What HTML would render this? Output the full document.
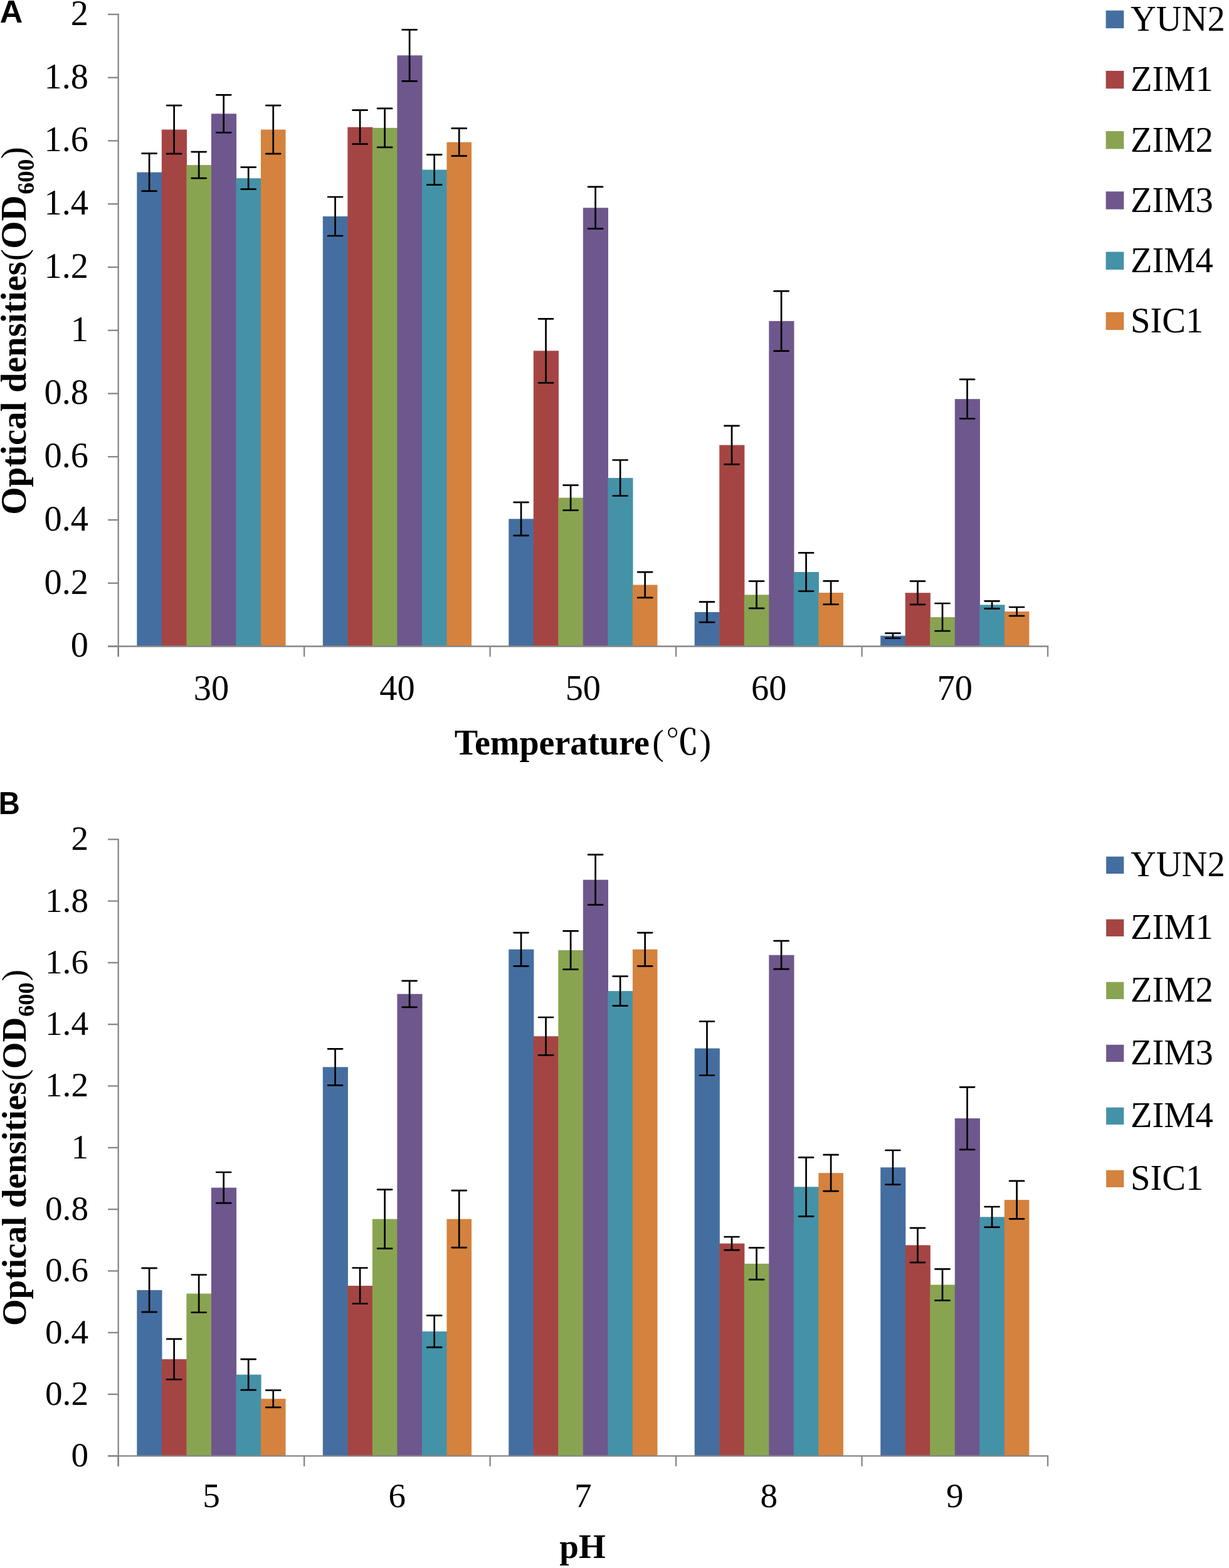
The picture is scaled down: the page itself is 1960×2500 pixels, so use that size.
<!DOCTYPE html><html><head><meta charset="utf-8"><title>Optical densities chart</title><style>html,body{margin:0;padding:0;background:#fff;overflow:hidden;width:1960px;height:2500px;}svg{display:block;}</style></head><body>
<svg width="1960" height="2500" viewBox="0 0 1960 2500">
<rect width="1960" height="2500" fill="#fff"/>
<g><rect x="218.35" y="274.7" width="40.13" height="755.8" fill="#456EA0"/><rect x="257.87" y="206.6" width="40.13" height="823.9" fill="#A54543"/><rect x="297.4" y="263.1" width="40.13" height="767.4" fill="#89A450"/><rect x="336.93" y="181.3" width="40.13" height="849.2" fill="#6E578D"/><rect x="376.46" y="284.2" width="40.13" height="746.3" fill="#4492A8"/><rect x="415.99" y="206.6" width="39.53" height="823.9" fill="#D4823E"/><rect x="514.81" y="345" width="40.13" height="685.5" fill="#456EA0"/><rect x="554.33" y="202.7" width="40.13" height="827.8" fill="#A54543"/><rect x="593.86" y="203.9" width="40.13" height="826.6" fill="#89A450"/><rect x="633.39" y="88.3" width="40.13" height="942.2" fill="#6E578D"/><rect x="672.92" y="270.6" width="40.13" height="759.9" fill="#4492A8"/><rect x="712.45" y="226.7" width="39.53" height="803.8" fill="#D4823E"/><rect x="811.27" y="827.3" width="40.13" height="203.2" fill="#456EA0"/><rect x="850.79" y="559.3" width="40.13" height="471.2" fill="#A54543"/><rect x="890.32" y="793.6" width="40.13" height="236.9" fill="#89A450"/><rect x="929.85" y="331.3" width="40.13" height="699.2" fill="#6E578D"/><rect x="969.38" y="762" width="40.13" height="268.5" fill="#4492A8"/><rect x="1008.91" y="932.5" width="39.53" height="98" fill="#D4823E"/><rect x="1107.73" y="975.9" width="40.13" height="54.6" fill="#456EA0"/><rect x="1147.25" y="709.6" width="40.13" height="320.9" fill="#A54543"/><rect x="1186.78" y="948.3" width="40.13" height="82.2" fill="#89A450"/><rect x="1226.31" y="511.9" width="40.13" height="518.6" fill="#6E578D"/><rect x="1265.84" y="912" width="40.13" height="118.5" fill="#4492A8"/><rect x="1305.37" y="945" width="39.53" height="85.5" fill="#D4823E"/><rect x="1404.19" y="1013.6" width="40.13" height="16.9" fill="#456EA0"/><rect x="1443.71" y="945.2" width="40.13" height="85.3" fill="#A54543"/><rect x="1483.24" y="984" width="40.13" height="46.5" fill="#89A450"/><rect x="1522.77" y="636.2" width="40.13" height="394.3" fill="#6E578D"/><rect x="1562.3" y="964.3" width="40.13" height="66.2" fill="#4492A8"/><rect x="1601.83" y="975" width="39.53" height="55.5" fill="#D4823E"/></g>
<g stroke="#868686" stroke-width="2.3" fill="none"><path d="M188.7 21.8V1047"/><path d="M172 22.95H188.7"/><path d="M172 123.7H188.7"/><path d="M172 224.46H188.7"/><path d="M172 325.21H188.7"/><path d="M172 425.97H188.7"/><path d="M172 526.73H188.7"/><path d="M172 627.48H188.7"/><path d="M172 728.24H188.7"/><path d="M172 828.99H188.7"/><path d="M172 929.75H188.7"/><path d="M172 1030.5H188.7"/><path d="M172 1030.5H1672.15"/><path d="M188.7 1030.5V1047"/><path d="M485.16 1030.5V1047"/><path d="M781.62 1030.5V1047"/><path d="M1078.08 1030.5V1047"/><path d="M1374.54 1030.5V1047"/><path d="M1671 1030.5V1047"/></g>
<g stroke="#000" stroke-width="2.7" stroke-linecap="round" fill="none"><path d="M238.11 244.7V304.7M226.56 244.7H249.66M226.56 304.7H249.66"/><path d="M277.64 168.1V245.1M266.09 168.1H289.19M266.09 245.1H289.19"/><path d="M317.17 242.1V284.1M305.62 242.1H328.72M305.62 284.1H328.72"/><path d="M356.69 151.3V211.3M345.14 151.3H368.24M345.14 211.3H368.24"/><path d="M396.22 266.7V301.7M384.67 266.7H407.77M384.67 301.7H407.77"/><path d="M435.75 168.1V245.1M424.2 168.1H447.3M424.2 245.1H447.3"/><path d="M534.57 314V376M523.02 314H546.12M523.02 376H546.12"/><path d="M574.1 175.7V229.7M562.55 175.7H585.65M562.55 229.7H585.65"/><path d="M613.63 172.9V234.9M602.08 172.9H625.18M602.08 234.9H625.18"/><path d="M653.15 47.3V129.3M641.6 47.3H664.7M641.6 129.3H664.7"/><path d="M692.68 246.6V294.6M681.13 246.6H704.23M681.13 294.6H704.23"/><path d="M732.21 204.7V248.7M720.66 204.7H743.76M720.66 248.7H743.76"/><path d="M831.03 800.8V853.8M819.48 800.8H842.58M819.48 853.8H842.58"/><path d="M870.56 508.3V610.3M859.01 508.3H882.11M859.01 610.3H882.11"/><path d="M910.09 773.6V813.6M898.54 773.6H921.64M898.54 813.6H921.64"/><path d="M949.61 297.9V364.7M938.06 297.9H961.16M938.06 364.7H961.16"/><path d="M989.14 733.5V790.5M977.59 733.5H1000.69M977.59 790.5H1000.69"/><path d="M1028.67 912.1V952.9M1017.12 912.1H1040.22M1017.12 952.9H1040.22"/><path d="M1127.49 959.7V992.1M1115.94 959.7H1139.04M1115.94 992.1H1139.04"/><path d="M1167.02 678.9V740.3M1155.47 678.9H1178.57M1155.47 740.3H1178.57"/><path d="M1206.55 926.7V969.9M1195 926.7H1218.1M1195 969.9H1218.1"/><path d="M1246.07 464.15V559.65M1234.52 464.15H1257.62M1234.52 559.65H1257.62"/><path d="M1285.6 881.4V942.6M1274.05 881.4H1297.15M1274.05 942.6H1297.15"/><path d="M1325.13 926.3V963.7M1313.58 926.3H1336.68M1313.58 963.7H1336.68"/><path d="M1423.95 1009.7V1017.5M1412.4 1009.7H1435.5M1412.4 1017.5H1435.5"/><path d="M1463.48 926.6V963.8M1451.93 926.6H1475.03M1451.93 963.8H1475.03"/><path d="M1503.01 962V1006M1491.46 962H1514.56M1491.46 1006H1514.56"/><path d="M1542.53 604.9V667.5M1530.98 604.9H1554.08M1530.98 667.5H1554.08"/><path d="M1582.06 958.3V970.3M1570.51 958.3H1593.61M1570.51 970.3H1593.61"/><path d="M1621.59 968V982M1610.04 968H1633.14M1610.04 982H1633.14"/></g>
<g font-family="'Liberation Serif', 'Times New Roman', serif" font-size="56.4" fill="#000"><text x="141" y="39.85" text-anchor="end">2</text><text x="141" y="140.6" text-anchor="end">1.8</text><text x="141" y="241.36" text-anchor="end">1.6</text><text x="141" y="342.11" text-anchor="end">1.4</text><text x="141" y="442.87" text-anchor="end">1.2</text><text x="141" y="543.62" text-anchor="end">1</text><text x="141" y="644.38" text-anchor="end">0.8</text><text x="141" y="745.13" text-anchor="end">0.6</text><text x="141" y="845.89" text-anchor="end">0.4</text><text x="141" y="946.64" text-anchor="end">0.2</text><text x="141" y="1047.4" text-anchor="end">0</text><text x="336.93" y="1115.5" text-anchor="middle">30</text><text x="633.39" y="1115.5" text-anchor="middle">40</text><text x="929.85" y="1115.5" text-anchor="middle">50</text><text x="1226.31" y="1115.5" text-anchor="middle">60</text><text x="1522.77" y="1115.5" text-anchor="middle">70</text></g>
<g font-family="'Liberation Serif', 'Times New Roman', serif" font-size="56.5" fill="#000"><rect x="1763.6" y="16.7" width="28.7" height="28.4" fill="#456EA0"/><text x="1803" y="49.1">YUN2</text><rect x="1763.6" y="112.9" width="28.7" height="28.4" fill="#A54543"/><text x="1803" y="145.3">ZIM1</text><rect x="1763.6" y="209.1" width="28.7" height="28.4" fill="#89A450"/><text x="1803" y="241.5">ZIM2</text><rect x="1763.6" y="305.3" width="28.7" height="28.4" fill="#6E578D"/><text x="1803" y="337.7">ZIM3</text><rect x="1763.6" y="401.5" width="28.7" height="28.4" fill="#4492A8"/><text x="1803" y="433.9">ZIM4</text><rect x="1763.6" y="497.7" width="28.7" height="28.4" fill="#D4823E"/><text x="1803" y="530.1">SIC1</text></g>
<g fill="#000"><text transform="translate(41 820.78) rotate(-90)" font-family="'Liberation Serif', 'Times New Roman', serif" font-weight="bold" font-size="57">Optical densities</text><text transform="translate(41 416) rotate(-90)" font-family="'Liberation Serif', 'Times New Roman', serif" font-weight="normal" font-size="57">(</text><text transform="translate(41 396.78) rotate(-90)" font-family="'Liberation Serif', 'Times New Roman', serif" font-weight="bold" font-size="57">OD</text><text transform="translate(53.7 309.78) rotate(-90)" font-family="'Liberation Serif', 'Times New Roman', serif" font-weight="bold" font-size="37.5">600</text><text transform="translate(41 253.24) rotate(-90)" font-family="'Liberation Serif', 'Times New Roman', serif" font-weight="normal" font-size="57">)</text></g>
<g><rect x="218.35" y="2056.9" width="40.13" height="264.4" fill="#456EA0"/><rect x="257.87" y="2167.1" width="40.13" height="154.2" fill="#A54543"/><rect x="297.4" y="2062.5" width="40.13" height="258.8" fill="#89A450"/><rect x="336.93" y="1893.6" width="40.13" height="427.7" fill="#6E578D"/><rect x="376.46" y="2191.7" width="40.13" height="129.6" fill="#4492A8"/><rect x="415.99" y="2230.2" width="39.53" height="91.1" fill="#D4823E"/><rect x="514.81" y="1701.3" width="40.13" height="620" fill="#456EA0"/><rect x="554.33" y="2050" width="40.13" height="271.3" fill="#A54543"/><rect x="593.86" y="1943.6" width="40.13" height="377.7" fill="#89A450"/><rect x="633.39" y="1584.8" width="40.13" height="736.5" fill="#6E578D"/><rect x="672.92" y="2122.8" width="40.13" height="198.5" fill="#4492A8"/><rect x="712.45" y="1943.6" width="39.53" height="377.7" fill="#D4823E"/><rect x="811.27" y="1513.7" width="40.13" height="807.6" fill="#456EA0"/><rect x="850.79" y="1652.2" width="40.13" height="669.1" fill="#A54543"/><rect x="890.32" y="1515" width="40.13" height="806.3" fill="#89A450"/><rect x="929.85" y="1402.7" width="40.13" height="918.6" fill="#6E578D"/><rect x="969.38" y="1580.1" width="40.13" height="741.2" fill="#4492A8"/><rect x="1008.91" y="1513.7" width="39.53" height="807.6" fill="#D4823E"/><rect x="1107.73" y="1671.5" width="40.13" height="649.8" fill="#456EA0"/><rect x="1147.25" y="1982.6" width="40.13" height="338.7" fill="#A54543"/><rect x="1186.78" y="2014.8" width="40.13" height="306.5" fill="#89A450"/><rect x="1226.31" y="1522.7" width="40.13" height="798.6" fill="#6E578D"/><rect x="1265.84" y="1892.3" width="40.13" height="429" fill="#4492A8"/><rect x="1305.37" y="1870.2" width="39.53" height="451.1" fill="#D4823E"/><rect x="1404.19" y="1861.3" width="40.13" height="460" fill="#456EA0"/><rect x="1443.71" y="1985.3" width="40.13" height="336" fill="#A54543"/><rect x="1483.24" y="2048.4" width="40.13" height="272.9" fill="#89A450"/><rect x="1522.77" y="1783.1" width="40.13" height="538.2" fill="#6E578D"/><rect x="1562.3" y="1940.3" width="40.13" height="381" fill="#4492A8"/><rect x="1601.83" y="1913.1" width="39.53" height="408.2" fill="#D4823E"/></g>
<g stroke="#868686" stroke-width="2.3" fill="none"><path d="M188.7 1337.15V2337.8"/><path d="M172 1338.3H188.7"/><path d="M172 1436.6H188.7"/><path d="M172 1534.9H188.7"/><path d="M172 1633.2H188.7"/><path d="M172 1731.5H188.7"/><path d="M172 1829.8H188.7"/><path d="M172 1928.1H188.7"/><path d="M172 2026.4H188.7"/><path d="M172 2124.7H188.7"/><path d="M172 2223H188.7"/><path d="M172 2321.3H188.7"/><path d="M172 2321.3H1672.15"/><path d="M188.7 2321.3V2337.8"/><path d="M485.16 2321.3V2337.8"/><path d="M781.62 2321.3V2337.8"/><path d="M1078.08 2321.3V2337.8"/><path d="M1374.54 2321.3V2337.8"/><path d="M1671 2321.3V2337.8"/></g>
<g stroke="#000" stroke-width="2.7" stroke-linecap="round" fill="none"><path d="M238.11 2021.9V2091.9M226.56 2021.9H249.66M226.56 2091.9H249.66"/><path d="M277.64 2134.9V2199.3M266.09 2134.9H289.19M266.09 2199.3H289.19"/><path d="M317.17 2032.5V2092.5M305.62 2032.5H328.72M305.62 2092.5H328.72"/><path d="M356.69 1869V1918.2M345.14 1869H368.24M345.14 1918.2H368.24"/><path d="M396.22 2167.2V2216.2M384.67 2167.2H407.77M384.67 2216.2H407.77"/><path d="M435.75 2216.6V2243.8M424.2 2216.6H447.3M424.2 2243.8H447.3"/><path d="M534.57 1672.3V1730.3M523.02 1672.3H546.12M523.02 1730.3H546.12"/><path d="M574.1 2021.5V2078.5M562.55 2021.5H585.65M562.55 2078.5H585.65"/><path d="M613.63 1896.6V1990.6M602.08 1896.6H625.18M602.08 1990.6H625.18"/><path d="M653.15 1563.8V1605.8M641.6 1563.8H664.7M641.6 1605.8H664.7"/><path d="M692.68 2097.4V2148.2M681.13 2097.4H704.23M681.13 2148.2H704.23"/><path d="M732.21 1898.1V1989.1M720.66 1898.1H743.76M720.66 1989.1H743.76"/><path d="M831.03 1487.1V1540.3M819.48 1487.1H842.58M819.48 1540.3H842.58"/><path d="M870.56 1622V1682.4M859.01 1622H882.11M859.01 1682.4H882.11"/><path d="M910.09 1484.4V1545.6M898.54 1484.4H921.64M898.54 1545.6H921.64"/><path d="M949.61 1362.7V1442.7M938.06 1362.7H961.16M938.06 1442.7H961.16"/><path d="M989.14 1556.6V1603.6M977.59 1556.6H1000.69M977.59 1603.6H1000.69"/><path d="M1028.67 1487.1V1540.3M1017.12 1487.1H1040.22M1017.12 1540.3H1040.22"/><path d="M1127.49 1628.5V1714.5M1115.94 1628.5H1139.04M1115.94 1714.5H1139.04"/><path d="M1167.02 1972V1993.2M1155.47 1972H1178.57M1155.47 1993.2H1178.57"/><path d="M1206.55 1989.4V2040.2M1195 1989.4H1218.1M1195 2040.2H1218.1"/><path d="M1246.07 1500.2V1545.2M1234.52 1500.2H1257.62M1234.52 1545.2H1257.62"/><path d="M1285.6 1845.3V1939.3M1274.05 1845.3H1297.15M1274.05 1939.3H1297.15"/><path d="M1325.13 1841.2V1899.2M1313.58 1841.2H1336.68M1313.58 1899.2H1336.68"/><path d="M1423.95 1834V1888.6M1412.4 1834H1435.5M1412.4 1888.6H1435.5"/><path d="M1463.48 1957.8V2012.8M1451.93 1957.8H1475.03M1451.93 2012.8H1475.03"/><path d="M1503.01 2023.4V2073.4M1491.46 2023.4H1514.56M1491.46 2073.4H1514.56"/><path d="M1542.53 1733.3V1832.9M1530.98 1733.3H1554.08M1530.98 1832.9H1554.08"/><path d="M1582.06 1924V1956.6M1570.51 1924H1593.61M1570.51 1956.6H1593.61"/><path d="M1621.59 1882.9V1943.3M1610.04 1882.9H1633.14M1610.04 1943.3H1633.14"/></g>
<g font-family="'Liberation Serif', 'Times New Roman', serif" font-size="55.2" fill="#000"><text x="141" y="1355.2" text-anchor="end">2</text><text x="141" y="1453.5" text-anchor="end">1.8</text><text x="141" y="1551.8" text-anchor="end">1.6</text><text x="141" y="1650.1" text-anchor="end">1.4</text><text x="141" y="1748.4" text-anchor="end">1.2</text><text x="141" y="1846.7" text-anchor="end">1</text><text x="141" y="1945" text-anchor="end">0.8</text><text x="141" y="2043.3" text-anchor="end">0.6</text><text x="141" y="2141.6" text-anchor="end">0.4</text><text x="141" y="2239.9" text-anchor="end">0.2</text><text x="141" y="2338.2" text-anchor="end">0</text><text x="336.93" y="2403.3" text-anchor="middle">5</text><text x="633.39" y="2403.3" text-anchor="middle">6</text><text x="929.85" y="2403.3" text-anchor="middle">7</text><text x="1226.31" y="2403.3" text-anchor="middle">8</text><text x="1522.77" y="2403.3" text-anchor="middle">9</text></g>
<g font-family="'Liberation Serif', 'Times New Roman', serif" font-size="56.5" fill="#000"><rect x="1764.1" y="1365.7" width="28.2" height="27.3" fill="#456EA0"/><text x="1803" y="1396.7">YUN2</text><rect x="1764.1" y="1465.7" width="28.2" height="27.3" fill="#A54543"/><text x="1803" y="1496.7">ZIM1</text><rect x="1764.1" y="1565.7" width="28.2" height="27.3" fill="#89A450"/><text x="1803" y="1596.7">ZIM2</text><rect x="1764.1" y="1665.7" width="28.2" height="27.3" fill="#6E578D"/><text x="1803" y="1696.7">ZIM3</text><rect x="1764.1" y="1765.7" width="28.2" height="27.3" fill="#4492A8"/><text x="1803" y="1796.7">ZIM4</text><rect x="1764.1" y="1865.7" width="28.2" height="27.3" fill="#D4823E"/><text x="1803" y="1896.7">SIC1</text></g>
<g fill="#000"><text transform="translate(41 2113.98) rotate(-90)" font-family="'Liberation Serif', 'Times New Roman', serif" font-weight="bold" font-size="55">Optical densities</text><text transform="translate(41 1723.01) rotate(-90)" font-family="'Liberation Serif', 'Times New Roman', serif" font-weight="normal" font-size="55">(</text><text transform="translate(41 1704.18) rotate(-90)" font-family="'Liberation Serif', 'Times New Roman', serif" font-weight="bold" font-size="55">OD</text><text transform="translate(53.7 1620.95) rotate(-90)" font-family="'Liberation Serif', 'Times New Roman', serif" font-weight="bold" font-size="36.5">600</text><text transform="translate(41 1564.27) rotate(-90)" font-family="'Liberation Serif', 'Times New Roman', serif" font-weight="normal" font-size="55">)</text></g>
<g font-family="'Liberation Sans', Arial, sans-serif" font-weight="bold" font-size="50.5" fill="#000">
<text x="-0.36" y="35.9">A</text>
<text transform="translate(-2.2 1297.7) scale(0.935 1)">B</text>
</g>
<g fill="#000" font-family="'Liberation Serif', 'Times New Roman', serif">
<text x="724.7" y="1202.7" font-weight="bold" font-size="56">Temperature</text>
<text x="1040.3" y="1202.7" font-size="56">(</text>
<text transform="translate(1061.84 1201.7) scale(0.952 1)" font-size="54.7" font-weight="600" font-family="'Liberation Serif', 'Noto Serif CJK SC', serif">℃</text>
<text x="1115.6" y="1202.7" font-size="56">)</text>
<text x="892.3" y="2483.7" font-weight="bold" font-size="55">pH</text>
</g>
</svg></body></html>
